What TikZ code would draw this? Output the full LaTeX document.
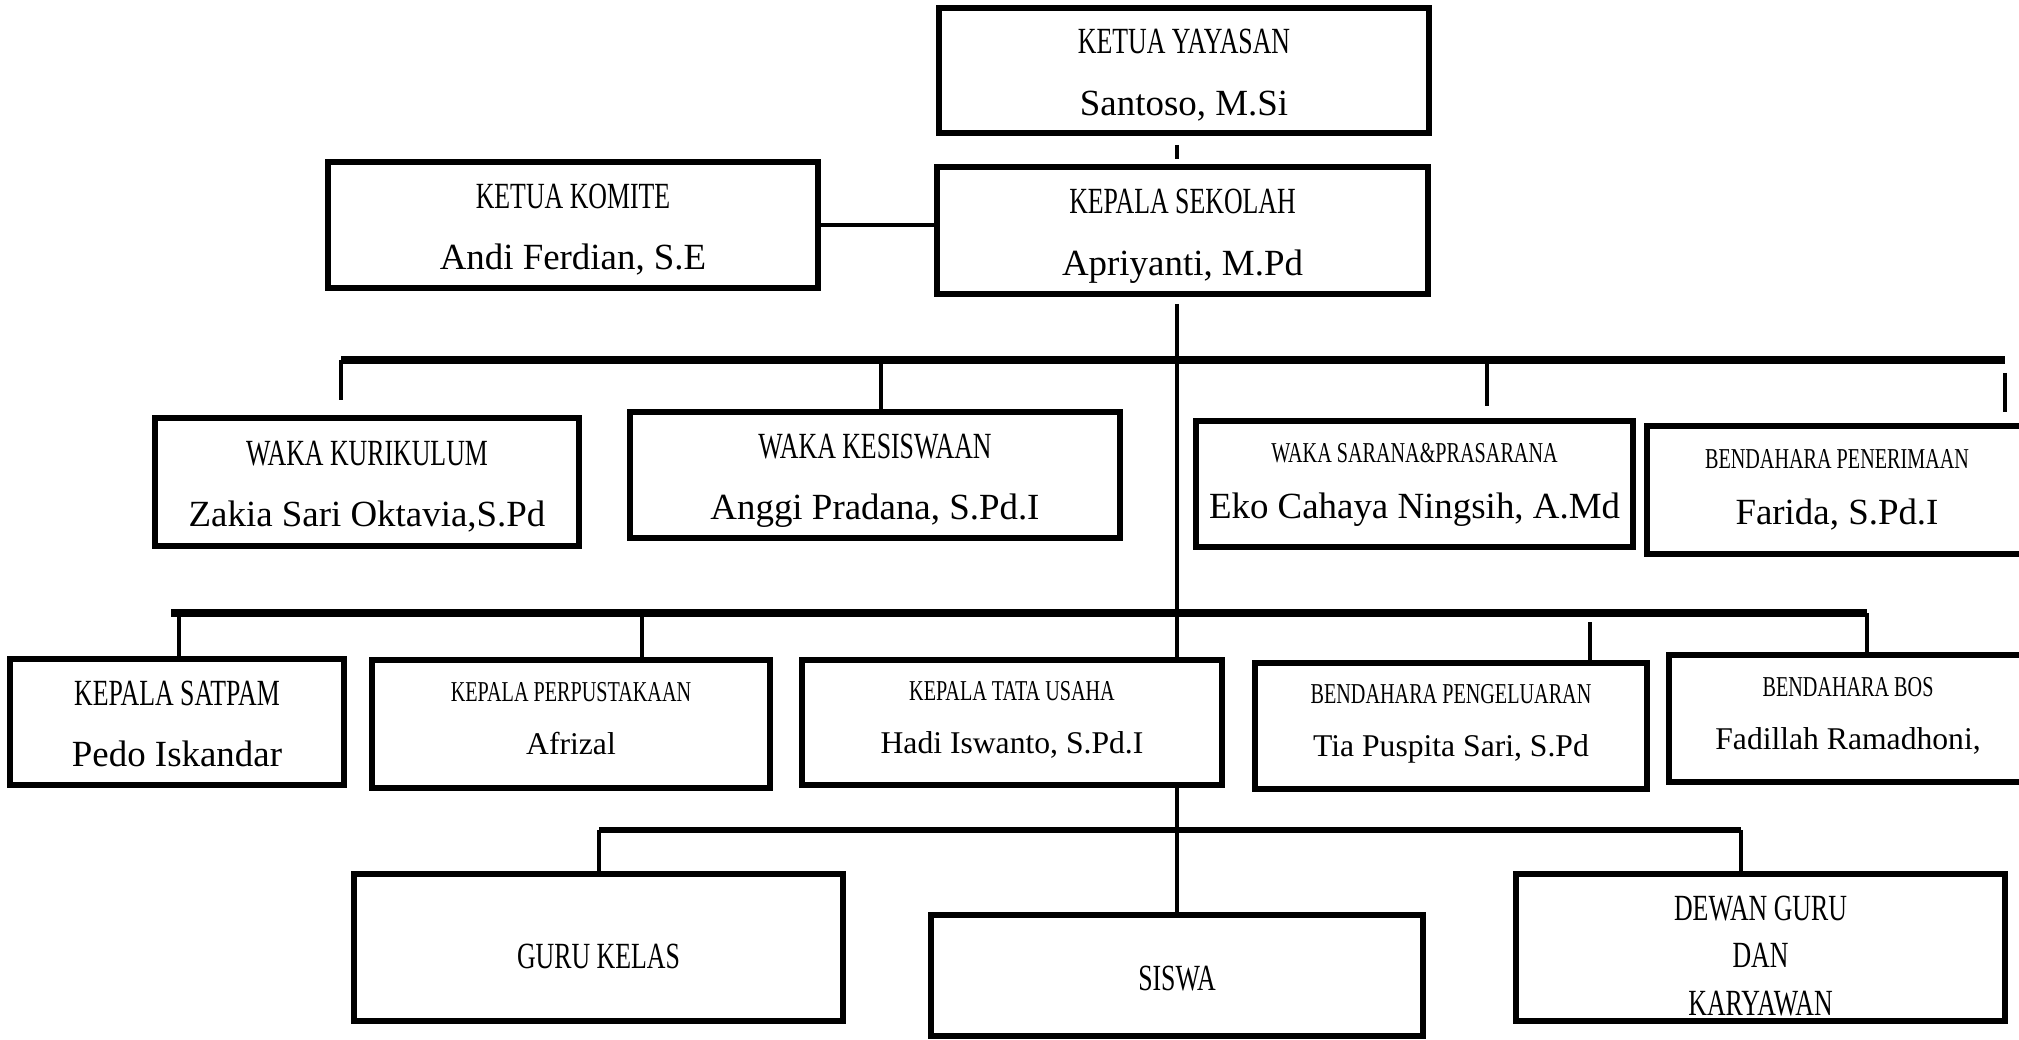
\documentclass[tikz,border=0pt]{standalone}
\usepackage{fontspec}
\setmainfont{Liberation Serif}
\newfontfamily\hdfont{Liberation Serif}[FakeStretch=0.7]
\newcommand{\smallhd}[1]{{\hdfont\fontsize{8.2}{14.3}\selectfont #1}}
\usetikzlibrary{positioning}
\tikzset{
  unit/.style={draw,line width=1.6pt,align=center,inner sep=0pt,
    font=\fontsize{10.5}{17.6}\selectfont,text height=27.6pt,text depth=2pt},
  mixed unit/.style={unit,font=\fontsize{10.5}{16}\selectfont,text height=21.5pt,text depth=2pt},
  small unit/.style={unit,font=\fontsize{9}{15}\selectfont,text height=19.4pt,text depth=2pt},
  plain unit/.style={unit,font=\hdfont\fontsize{10.5}{13.5}\selectfont,text height=12pt,text depth=0pt},
  bar/.style={line width=2pt},
  low bar/.style={line width=1.6pt},
  link/.style={line width=1.3pt},
  thin link/.style={line width=1.1pt}
}

\begin{document}
\begin{tikzpicture}[x=1mm,y=-1mm]
\useasboundingbox (0,0) rectangle (201.9,104);
% pimpinan
\node[unit,minimum width=49mm,minimum height=12.5mm] (yayasan) at (118.4,7.05) {{\hdfont KETUA YAYASAN}\\Santoso, M.Si};
\node[unit,minimum width=49.1mm,minimum height=12.7mm] (kepsek) at (118.25,23.05) {{\hdfont KEPALA SEKOLAH}\\Apriyanti, M.Pd};
\node[unit,minimum width=49mm,minimum height=12.6mm] (komite) at (57.3,22.5) {{\hdfont KETUA KOMITE}\\Andi Ferdian, S.E};
% wakil dan bendahara
\node[unit,minimum width=42.4mm,minimum height=12.8mm] (kurikulum) at (36.7,48.2) {{\hdfont WAKA KURIKULUM}\\Zakia Sari Oktavia,S.Pd};
\node[unit,minimum width=49mm,minimum height=12.6mm] (kesiswaan) at (87.5,47.5) {{\hdfont WAKA KESISWAAN}\\Anggi Pradana, S.Pd.I};
\node[mixed unit,minimum width=43.7mm,minimum height=12.6mm] (sarana) at (141.45,48.4) {\smallhd{WAKA SARANA\&PRASARANA}\\Eko Cahaya Ningsih, A.Md};
\node[mixed unit,minimum width=38mm,minimum height=12.8mm] (penerimaan) at (183.7,49) {\smallhd{BENDAHARA PENERIMAAN}\\Farida, S.Pd.I};
% kepala unit
\node[unit,minimum width=33.4mm,minimum height=12.6mm] (satpam) at (17.7,72.2) {{\hdfont KEPALA SATPAM}\\Pedo Iskandar};
\node[small unit,minimum width=39.8mm,minimum height=12.8mm] (perpus) at (57.1,72.4) {\smallhd{KEPALA PERPUSTAKAAN}\\Afrizal};
\node[small unit,minimum width=42mm,minimum height=12.5mm] (tatausaha) at (101.2,72.25) {\smallhd{KEPALA TATA USAHA}\\Hadi Iswanto, S.Pd.I};
\node[small unit,minimum width=39.2mm,minimum height=12.6mm] (pengeluaran) at (145.1,72.6) {\smallhd{BENDAHARA PENGELUARAN}\\Tia Puspita Sari, S.Pd};
\node[small unit,minimum width=35.8mm,minimum height=12.7mm] (bos) at (184.8,71.85) {\smallhd{BENDAHARA BOS}\\Fadillah Ramadhoni,};
% guru dan siswa
\node[plain unit,minimum width=48.9mm,minimum height=14.7mm] (gurukelas) at (59.85,94.75) {GURU KELAS};
\node[plain unit,minimum width=49.2mm,minimum height=12.1mm,text height=8.4pt] (siswa) at (117.7,97.55) {SISWA};
\node[plain unit,minimum width=48.9mm,minimum height=14.7mm,text height=38.6pt] (dewan) at (176.05,94.75) {DEWAN GURU\\DAN\\KARYAWAN};

\coordinate (trunk) at (117.7,30.4);
\draw[link] ([yshift=-0.9mm]yayasan.south -| trunk) -- ([yshift=0.5mm]kepsek.north -| trunk);
\draw[link] (komite.east) -- (komite.east -| kepsek.west);
\draw[link] (trunk) -- (tatausaha.north -| trunk);
\draw[thin link] (tatausaha.south -| trunk) -- (siswa.north);

% garis wakil
\draw[bar] (34.1,36) coordinate (b1) -- (200.5,36) coordinate (b4);
\coordinate (b2) at (88.1,36);
\coordinate (b3) at (148.7,36);
\draw[link] (b1) -- ([yshift=1.5mm]b1 |- kurikulum.north);
\draw[link] (b2) -- (b2 |- kesiswaan.north);
\draw[link] (b3) -- ([yshift=1.2mm]b3 |- sarana.north);
\draw[link] ([yshift=-1.3mm]b4) -- ([yshift=1.1mm]b4 |- penerimaan.north);

% garis kepala unit
\draw[bar] (17.1,61.3) -- (186.7,61.3) coordinate (c4);
\coordinate (c1) at (17.9,61.3);
\coordinate (c2) at (64.2,61.3);
\coordinate (c3) at (159,61.3);
\draw[link] (c1) -- (c1 |- satpam.north);
\draw[link] (c2) -- (c2 |- perpus.north);
\draw[link] ([yshift=-0.9mm]c3) -- (c3 |- pengeluaran.north);
\draw[link] (c4) -- (c4 |- bos.north);

% garis guru
\draw[low bar] (59.9,83) coordinate (g1) -- (174.1,83) coordinate (g2);
\draw[thin link] (g1) -- (g1 |- gurukelas.north);
\draw[thin link] (g2) -- (g2 |- dewan.north);
\end{tikzpicture}
\end{document}
